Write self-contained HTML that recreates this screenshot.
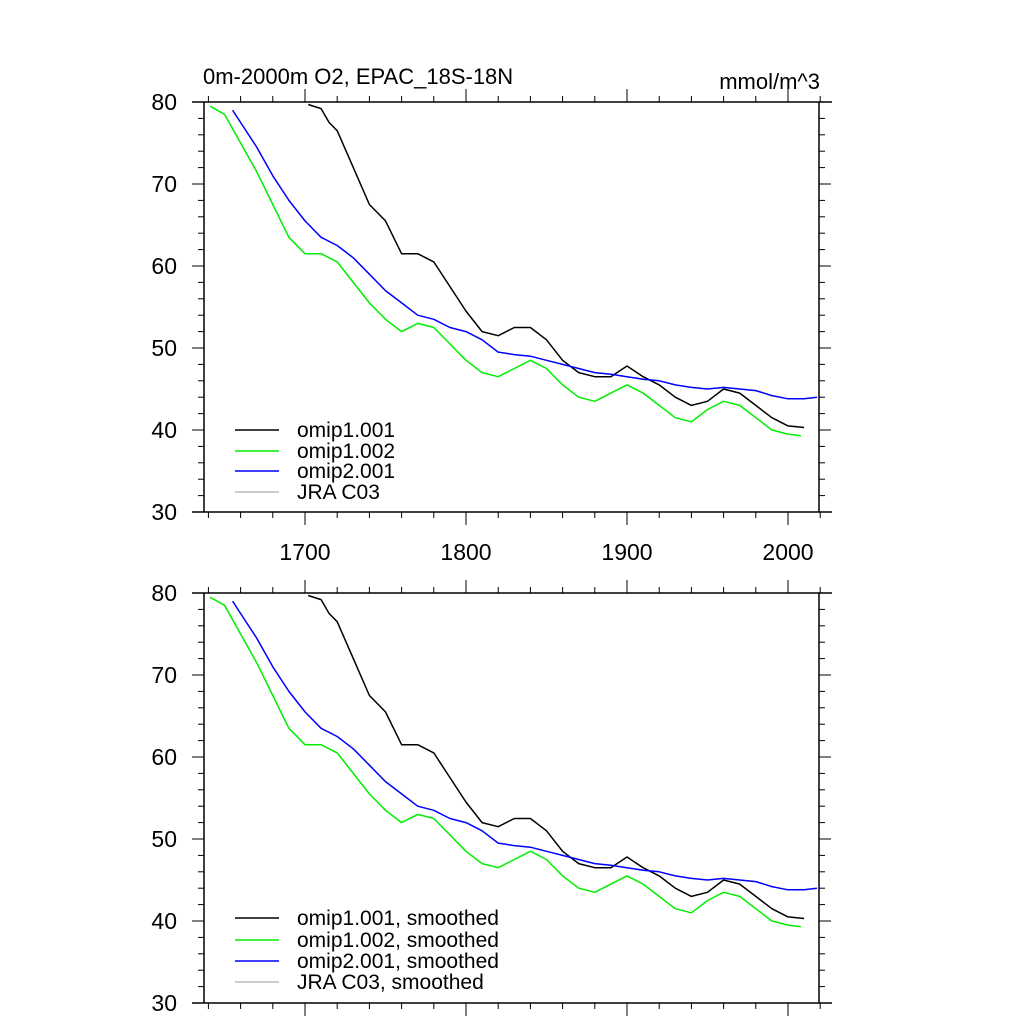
<!DOCTYPE html>
<html><head><meta charset="utf-8"><style>
html,body{margin:0;padding:0;background:#fff;}
svg{display:block;font-family:"Liberation Sans",sans-serif;}
</style></head><body>
<svg id="chart" width="1024" height="1024" viewBox="0 0 1024 1024"></svg>
<script>
const years1 = [1702,1710,1715,1720,1730,1740,1750,1760,1770,1780,1790,1800,1810,1820,1830,1840,1850,1860,1870,1880,1890,1900,1910,1920,1930,1940,1950,1960,1970,1980,1990,2000,2010];
const black = [79.7,79.2,77.5,76.5,72,67.5,65.5,61.5,61.5,60.5,57.5,54.5,52,51.5,52.5,52.5,51,48.5,47,46.5,46.5,47.8,46.5,45.5,44,43,43.5,45,44.5,43,41.5,40.5,40.3];
const years2 = [1641,1650,1660,1670,1680,1690,1700,1710,1720,1730,1740,1750,1760,1770,1780,1790,1800,1810,1820,1830,1840,1850,1860,1870,1880,1890,1900,1910,1920,1930,1940,1950,1960,1970,1980,1990,2000,2008];
const green = [79.5,78.5,75,71.5,67.5,63.5,61.5,61.5,60.5,58,55.5,53.5,52,53,52.5,50.5,48.5,47,46.5,47.5,48.5,47.5,45.5,44,43.5,44.5,45.5,44.5,43,41.5,41,42.5,43.5,43,41.5,40,39.5,39.3];
const years3 = [1655,1660,1670,1680,1690,1700,1710,1720,1730,1740,1750,1760,1770,1780,1790,1800,1810,1820,1830,1840,1850,1860,1870,1880,1890,1900,1910,1920,1930,1940,1950,1960,1970,1980,1990,2000,2010,2018];
const blue = [79,77.5,74.5,71,68,65.5,63.5,62.5,61,59,57,55.5,54,53.5,52.5,52,51,49.5,49.2,49,48.5,48,47.5,47,46.8,46.5,46.2,46,45.5,45.2,45,45.2,45,44.8,44.2,43.8,43.8,44];
const xTicks = [1700,1800,1900,2000];
const yTicks = [30,40,50,60,70,80];
const legendTop = ["omip1.001","omip1.002","omip2.001","JRA C03"];
const legendBot = ["omip1.001, smoothed","omip1.002, smoothed","omip2.001, smoothed","JRA C03, smoothed"];
const colors = ["#000","#00ee00","#0000ff","#bbbbbb"];

const NS="http://www.w3.org/2000/svg";
const svg=document.getElementById('chart');
function mk(tag,attrs,parent){const e=document.createElementNS(NS,tag);for(const k in attrs)e.setAttribute(k,attrs[k]);(parent||svg).appendChild(e);return e;}
const X0=204, X1=819;
function xs(yr){return 305+(yr-1700)*1.61;}

function panel(top, name, legend, showX, legY){
  const g=mk('g',{});
  
  
  const bot=top+410;
  function ys(v){return top+(80-v)*8.2;}
  mk('line',{x1:192,x2:832,y1:top,y2:top,stroke:'#000','stroke-width':1.5},g);
  mk('line',{x1:192,x2:832,y1:bot,y2:bot,stroke:'#000','stroke-width':1.5},g);
  mk('line',{x1:X0,x2:X0,y1:top,y2:bot,stroke:'#000','stroke-width':1.5},g);
  mk('line',{x1:X1,x2:X1,y1:top,y2:bot,stroke:'#000','stroke-width':1.5},g);
  for(let yr=1640;yr<=2020;yr+=20){
    const x=xs(yr); if(x<X0||x>832) continue;
    const major=yr%100===0; const L=major?13:6;
    mk('line',{x1:x,x2:x,y1:top,y2:top-L,stroke:'#000','stroke-width':1},g);
    mk('line',{x1:x,x2:x,y1:bot,y2:bot+L,stroke:'#000','stroke-width':1},g);
  }
  if(showX){xTicks.forEach(yr=>{const t=mk('text',{x:xs(yr),y:bot+48,'font-size':23,'text-anchor':'middle'},g);t.textContent=yr;
    
    });}
  for(let v=30;v<=80;v+=2){
    const y=ys(v); const major=v%10===0; const L=major?12:6;
    mk('line',{x1:X0,x2:X0-L,y1:y,y2:y,stroke:'#000','stroke-width':1},g);
    mk('line',{x1:X1,x2:X1+L,y1:y,y2:y,stroke:'#000','stroke-width':1},g);
  }
  yTicks.forEach(v=>{const t=mk('text',{x:177,y:ys(v)+8,'font-size':23,'text-anchor':'end'},g);t.textContent=v;
    
    });
  [[years1,black,0],[years2,green,1],[years3,blue,2]].forEach(([xsArr,vals,i])=>{
    const d=vals.map((v,j)=>(j?'L':'M')+xs(xsArr[j]).toFixed(1)+','+ys(v).toFixed(1)).join(' ');
    const p=mk('path',{d:d,fill:'none',stroke:colors[i],'stroke-width':1.5,'stroke-linejoin':'round'},g);
    
    
  });
  legend.forEach((lab,i)=>{
    const y=legY[i];
    const l=mk('line',{x1:235,x2:279,y1:y,y2:y,stroke:colors[i],'stroke-width':1.5},g);
    
    
    const t=mk('text',{x:297,y:y+7,'font-size':21},g);t.textContent=lab;
    
    
  });
}
panel(102,'top-panel-raw',legendTop,true,[430,451,471,492]);
panel(593,'bottom-panel-smoothed',legendBot,false,[918,940,961,982]);
const tt=mk('text',{x:203,y:84,'font-size':22});tt.textContent='0m-2000m O2, EPAC_18S-18N';


const ut=mk('text',{x:820,y:89,'font-size':22,'text-anchor':'end'});ut.textContent='mmol/m^3';


</script>
</body></html>
